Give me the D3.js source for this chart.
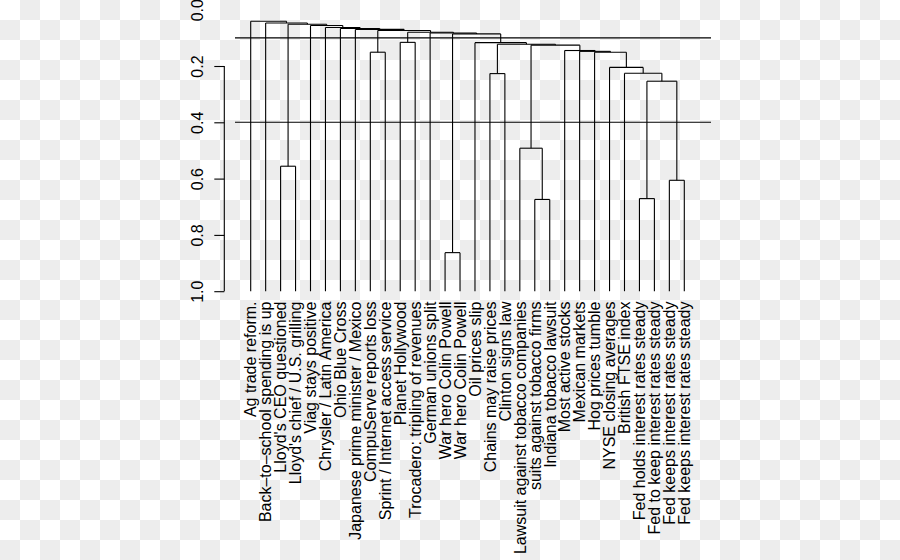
<!DOCTYPE html>
<html>
<head>
<meta charset="utf-8">
<script src="https://cdn.jsdelivr.net/npm/d3@7"></script>
<style>
  html, body { margin: 0; padding: 0; background: #fff; }
  svg { display: block; }
  text { font-family: "Liberation Sans", Arial, Helvetica, sans-serif; fill: #000; }
</style>
</head>
<body>
<svg id="chart" width="900" height="560"></svg>
<script>
// ---- data ----
const labels = [
  "Ag trade reform.",
  "Back\u2013to\u2013school spending is up",
  "Lloyd's CEO questioned",
  "Lloyd's chief / U.S. grilling",
  "Viag stays positive",
  "Chrysler / Latin America",
  "Ohio Blue Cross",
  "Japanese prime minister / Mexico",
  "CompuServe reports loss",
  "Sprint / Internet access service",
  "Planet Hollywood",
  "Trocadero: tripling of revenues",
  "German unions split",
  "War hero Colin Powell",
  "War hero Colin Powell",
  "Oil prices slip",
  "Chains may raise prices",
  "Clinton signs law",
  "Lawsuit against tobacco companies",
  "suits against tobacco firms",
  "Indiana tobacco lawsuit",
  "Most active stocks",
  "Mexican markets",
  "Hog prices tumble",
  "NYSE closing averages",
  "British FTSE index",
  "Fed holds interest rates steady",
  "Fed to keep interest rates steady",
  "Fed keeps interest rates steady",
  "Fed keeps interest rates steady"
];
// R-style merge matrix: negative = leaf number, positive = earlier merge number
const mergeLeft  = [-14, -20, -27, -29, -3, -19, 3, -17, -26, -25, -9, -24, -23, -22, 6, 8, -16, -11, 1, -13, 18, 11, -8, -7, -6, -5, 5, -2, -1];
const mergeRight = [-15, -21, -28, -30, -4,   2, 4, -18,   7,   9, -10, 10, 12, 13, 14, 15, 16, -12, 17, 19, 20, 21, 22, 23, 24, 25, 26, 27, 28];
const mergeHeights = [0.863, 0.674, 0.671, 0.606, 0.556, 0.492, 0.254, 0.227, 0.226, 0.205,
                      0.151, 0.151, 0.148, 0.145, 0.126, 0.123, 0.117, 0.116, 0.086, 0.083,
                      0.080, 0.074, 0.070, 0.067, 0.063, 0.056, 0.0515, 0.047, 0.041];
const leafHeight = 1.0;
const tickValues = [0.0, 0.2, 0.4, 0.6, 0.8, 1.0];
const cutHeights = [0.1, 0.4];

// ---- layout ----
const svg = d3.select("#chart");
const W = 900, H = 560;

// checkerboard background
const defs = svg.append("defs");
const pat = defs.append("pattern").attr("id", "checker")
  .attr("patternUnits", "userSpaceOnUse").attr("width", 40).attr("height", 40);
pat.append("rect").attr("width", 40).attr("height", 40).attr("fill", "#ffffff");
pat.append("rect").attr("x", 20).attr("y", 0).attr("width", 20).attr("height", 20).attr("fill", "#ededed");
pat.append("rect").attr("x", 0).attr("y", 20).attr("width", 20).attr("height", 20).attr("fill", "#ededed");
svg.append("rect").attr("width", W).attr("height", H).attr("fill", "url(#checker)");

const x = d3.scaleLinear().domain([1, labels.length]).range([250.7, 684.3]);
const y = d3.scaleLinear().domain([0, 1]).range([9.7, 291.2]);

// compute node positions
const mergeX = [];
function nodeX(id) { return id < 0 ? x(-id) : mergeX[id - 1]; }
function nodeH(id) { return id < 0 ? leafHeight : mergeHeights[id - 1]; }
mergeLeft.forEach((l, i) => {
  mergeX.push((nodeX(l) + nodeX(mergeRight[i])) / 2);
});

const g = svg.append("g")
  .attr("fill", "none").attr("stroke", "#000").attr("stroke-width", 1.1);

// dendrogram segments
const segs = [];
mergeLeft.forEach((l, i) => {
  const r = mergeRight[i];
  const h = mergeHeights[i];
  const xl = nodeX(l), xr = nodeX(r);
  segs.push([xl, y(nodeH(l)), xl, y(h)]);
  segs.push([xl, y(h), xr, y(h)]);
  segs.push([xr, y(h), xr, y(nodeH(r))]);
});
g.selectAll("line.seg").data(segs).join("line")
  .attr("class", "seg")
  .attr("x1", d => d[0]).attr("y1", d => d[1])
  .attr("x2", d => d[2]).attr("y2", d => d[3]);

// cut lines (abline)
g.selectAll("line.cut").data(cutHeights).join("line")
  .attr("class", "cut")
  .attr("x1", 235).attr("x2", 711)
  .attr("y1", d => y(d)).attr("y2", d => y(d));

// leaf labels
svg.append("g").selectAll("text").data(labels).join("text")
  .attr("transform", (d, i) => `translate(${x(i + 1)},301.5) rotate(-90)`)
  .attr("text-anchor", "end")
  .attr("dy", "0.36em")
  .style("font-size", "16px")
  .text(d => d);

// y axis
const axisG = svg.append("g").attr("transform", "translate(224.3,0)");
axisG.call(d3.axisLeft(y).tickValues(tickValues).tickSize(10).tickSizeOuter(0).tickFormat(d3.format(".1f")));
axisG.select(".domain").remove();
axisG.selectAll(".tick line").attr("stroke", "#000").attr("stroke-width", 1.1)
  .attr("display", d => d === 0 ? "none" : null);
axisG.selectAll(".tick text")
  .attr("x", null).attr("dy", null).attr("y", null)
  .attr("text-anchor", "middle")
  .attr("transform", "translate(-21.3,0) rotate(-90)")
  .style("font-size", "16px")
  .style("font-family", "\"Liberation Sans\", Arial, Helvetica, sans-serif")
  .attr("fill", "#000");
axisG.append("line")
  .attr("x1", 0).attr("x2", 0)
  .attr("y1", y(0.2)).attr("y2", y(1.0))
  .attr("stroke", "#000").attr("stroke-width", 1.1);
</script>
</body>
</html>
